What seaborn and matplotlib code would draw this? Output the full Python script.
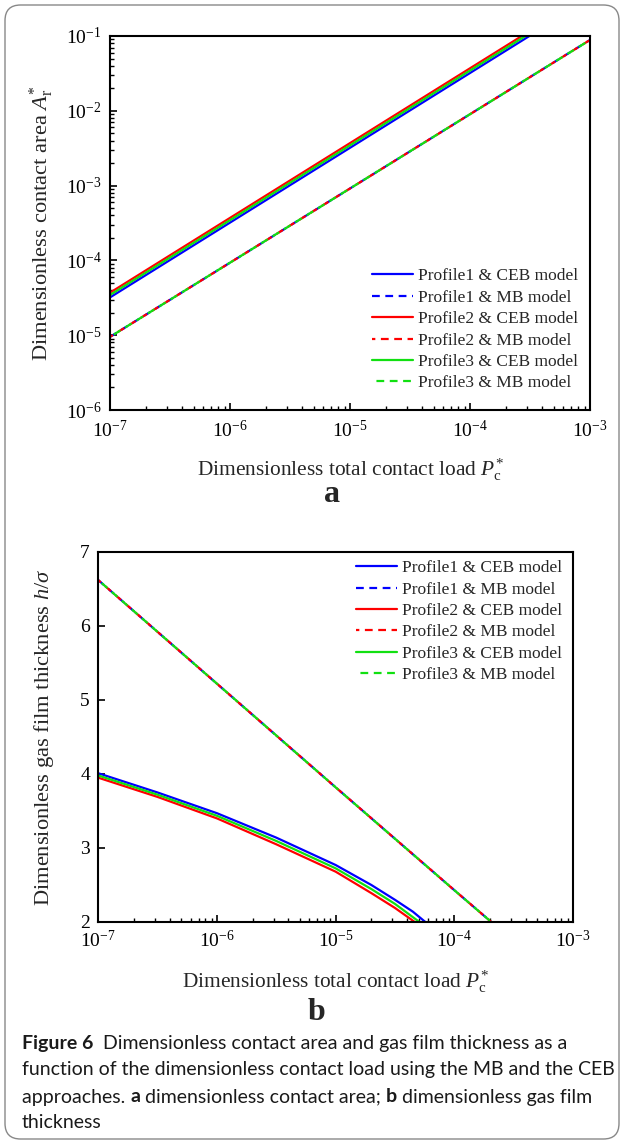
import matplotlib
matplotlib.use('Agg')
import matplotlib.pyplot as plt
import seaborn as sns
from matplotlib.patches import FancyBboxPatch

# ---- data ----
# panel a: dimensionless contact area vs total contact load (log-log)
load_a = [1e-7, 1e-6, 1e-5, 1e-4, 1e-3]
area_p1_ceb = [3.2e-5, 3.2e-4, 3.2e-3, 3.2e-2, 3.2e-1]
area_p2_ceb = [3.7e-5, 3.7e-4, 3.7e-3, 3.7e-2, 3.7e-1]
area_p3_ceb = [3.45e-5, 3.45e-4, 3.45e-3, 3.45e-2, 3.45e-1]
area_mb = [9.5e-6, 9.32e-5, 9.15e-4, 9.0e-3, 8.85e-2]   # all three profiles coincide

# panel b: dimensionless gas film thickness vs total contact load
load_p1_ceb = [1e-7, 3.16e-7, 1e-6, 3.16e-6, 1e-5, 2e-5, 3.16e-5, 4.47e-5, 5.7e-5]
h_p1_ceb = [4.01, 3.75, 3.47, 3.14, 2.77, 2.50, 2.30, 2.14, 2.0]
load_p2_ceb = [1e-7, 3.16e-7, 1e-6, 3.16e-6, 1e-5, 2e-5, 3.16e-5, 4.64e-5]
h_p2_ceb = [3.95, 3.69, 3.40, 3.05, 2.68, 2.39, 2.19, 2.0]
load_p3_ceb = [1e-7, 3.16e-7, 1e-6, 3.16e-6, 1e-5, 2e-5, 3.16e-5, 5.08e-5]
h_p3_ceb = [3.98, 3.72, 3.435, 3.095, 2.725, 2.445, 2.245, 2.0]
load_mb = [1e-7, 1e-6, 1e-5, 1e-4, 2.05e-4]
h_mb = [6.62, 5.22, 3.82, 2.43, 2.0]

labels = ['Profile1 & CEB model', 'Profile1 & MB model',
          'Profile2 & CEB model', 'Profile2 & MB model',
          'Profile3 & CEB model', 'Profile3 & MB model']
colors = ['#0000ff', '#ff0000', '#11e011']

caption_lines = [
    [('Figure 6', 'bold'), ('  Dimensionless contact area and gas film thickness as a', 'normal')],
    [('function of the dimensionless contact load using the MB and the CEB', 'normal')],
    [('approaches. ', 'normal'), ('a', 'bold'), (' dimensionless contact area; ', 'normal'),
     ('b', 'bold'), (' dimensionless gas film', 'normal')],
    [('thickness', 'normal')],
]

# ---- style ----
sns.set_style('ticks')
plt.rcParams['font.family'] = ['Liberation Serif', 'DejaVu Serif']
plt.rcParams['mathtext.fontset'] = 'custom'
plt.rcParams['mathtext.rm'] = 'Liberation Serif'
plt.rcParams['mathtext.it'] = 'Liberation Serif:italic'
plt.rcParams['mathtext.bf'] = 'Liberation Serif:bold'

W, H = 624, 1142
fig = plt.figure(figsize=(W / 100, H / 100), dpi=100)


def px_axes(left, top, right, bottom):
    return fig.add_axes([left / W, 1 - bottom / H, (right - left) / W, (bottom - top) / H])


def style_axes(ax):
    for s in ax.spines.values():
        s.set_linewidth(1.5)
        s.set_color('black')
    ax.tick_params(which='both', direction='in', top=False, right=False,
                   colors='black', labelsize=14, pad=6)
    ax.tick_params(which='major', length=5, width=1.2)
    ax.tick_params(which='minor', length=3, width=1.0)


dash = (3.5, 2.5)
legend_kw = dict(frameon=False, fontsize=12.5, handlelength=2.35, handletextpad=0.3,
                 labelspacing=0.3, borderpad=0, borderaxespad=0)

# ---- panel a ----
ax1 = px_axes(110, 36, 590, 410)
series_a = [area_p1_ceb, area_mb, area_p2_ceb, area_mb, area_p3_ceb, area_mb]
for i, (yv, lab) in enumerate(zip(series_a, labels)):
    c = colors[i // 2]
    ls = '-' if i % 2 == 0 else (2.0 * (i // 2), dash)
    sns.lineplot(x=load_a, y=yv, ax=ax1, color=c, linestyle=ls, linewidth=1.6, label=lab)
ax1.set_xscale('log')
ax1.set_yscale('log')
ax1.set_xlim(1e-7, 1e-3)
ax1.set_ylim(1e-6, 1e-1)
style_axes(ax1)
ax1.tick_params(axis='x', pad=7)
ax1.set_xlabel(r'Dimensionless total contact load $P_{\mathrm{c}}^{*}$', fontsize=15.4)
ax1.set_ylabel(r'Dimensionless contact area $A_{\mathrm{r}}^{*}$', fontsize=16.2)
ax1.xaxis.set_label_coords(0.5, -0.160)
ax1.xaxis.label.set_va('center')
ax1.yaxis.set_label_coords(-0.142, 0.5)
ax1.yaxis.label.set_va('center')
ax1.legend(loc='lower right', bbox_to_anchor=(0.975, 0.05), **legend_kw)

# ---- panel b ----
ax2 = px_axes(98.3, 552, 573, 922)
series_b = [(load_p1_ceb, h_p1_ceb), (load_mb, h_mb), (load_p2_ceb, h_p2_ceb),
            (load_mb, h_mb), (load_p3_ceb, h_p3_ceb), (load_mb, h_mb)]
for i, ((xv, yv), lab) in enumerate(zip(series_b, labels)):
    c = colors[i // 2]
    ls = '-' if i % 2 == 0 else (2.0 * (i // 2), dash)
    sns.lineplot(x=xv, y=yv, ax=ax2, color=c, linestyle=ls, linewidth=1.6, label=lab)
ax2.set_xscale('log')
ax2.set_xlim(1e-7, 1e-3)
ax2.set_ylim(2, 7)
ax2.set_yticks([2, 3, 4, 5, 6, 7])
style_axes(ax2)
ax2.set_xlabel(r'Dimensionless total contact load $P_{\mathrm{c}}^{*}$', fontsize=15.4)
ax2.set_ylabel(r'Dimensionless gas film thickness $h/\sigma$', fontsize=16.2)
ax2.xaxis.set_label_coords(0.5, -0.162)
ax2.xaxis.label.set_va('center')
ax2.yaxis.set_label_coords(-0.114, 0.5)
ax2.yaxis.label.set_va('center')
ax2.legend(loc='upper right', bbox_to_anchor=(0.977, 0.978), **legend_kw)

# panel letters
fig.text(332 / W, 1 - 495 / H, 'a', fontsize=23, fontweight='bold', ha='center', va='center')
fig.text(317 / W, 1 - 1012 / H, 'b', fontsize=23, fontweight='bold', ha='center', va='center')

# caption
renderer = fig.canvas.get_renderer()
cap_y = [1043, 1070, 1097, 1122]
for line, yp in zip(caption_lines, cap_y):
    x = 22 / W
    for txt, wt in line:
        t = fig.text(x, 1 - yp / H, txt, fontsize=14, fontweight=wt, va='center', ha='left',
                     family=['Lato', 'DejaVu Sans'], color='#1a1a1a')
        bb = t.get_window_extent(renderer)
        x += bb.width / W

# rounded frame around the figure
frame = FancyBboxPatch((5 / W, 3 / H), 614 / W, 1134 / H,
                       boxstyle='round,pad=0,rounding_size=0.025',
                       transform=fig.transFigure, fill=False, edgecolor='#888888',
                       linewidth=1.0, mutation_aspect=W / H)
fig.patches.append(frame)

fig.savefig('out.png', dpi=100)
